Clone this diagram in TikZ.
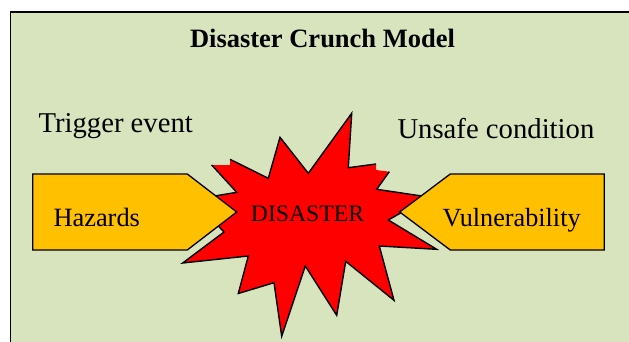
\documentclass[tikz,border=0pt]{standalone}
\usepackage{fontspec}
\setmainfont{Liberation Serif}
\definecolor{panelgreen}{HTML}{D7E4BD}
\definecolor{arrowgold}{HTML}{FFC000}
\tikzset{
	arrowshape/.style={draw=black,fill=arrowgold,line width=1.3pt,line join=miter},
	burstline/.style={draw=black,line width=1.4pt,line join=miter},
	plaintext/.style={inner sep=0pt,anchor=base west}
}
\begin{document}
\begin{tikzpicture}[x=1pt,y=-1pt]
	\useasboundingbox (0,0) rectangle (629,342);
	\fill[white] (0,0) rectangle (629,342);
	% panel
	\draw[fill=panelgreen,line width=1.3pt] (10.7,12) rectangle (650,360);
	\node[inner sep=0pt,anchor=base] (title) at (322.5,48)
		{\fontsize{26.5}{30}\selectfont\bfseries Disaster Crunch Model};
	% explosion
	\fill[red] (351.7,113.3) -- (348.3,167.7) -- (376,164) -- (376,170)
		-- (389.3,171.7) -- (376.7,189.3) -- (428.5,197) -- (388.3,220)
		-- (436.7,249.3) -- (379.3,246) -- (394,300.3) -- (345.7,261.3)
		-- (336.7,315.3) -- (305.3,266) -- (281.7,336.3) -- (274,282.7)
		-- (238.3,293.5) -- (248.3,256) -- (182.7,263) -- (224,232)
		-- (193.5,199.6) -- (236.7,192.3) -- (211.7,165) -- (230,165)
		-- (230,159.3) -- (268.3,178.3) -- (280,137.3) -- (308.3,173.3) -- cycle;
	% outline, open where the shape is cut
	\draw[burstline] (389.3,171.7) -- (376.7,189.3) -- (428.5,197) -- (388.3,220)
		-- (436.7,249.3) -- (379.3,246) -- (394,300.3) -- (345.7,261.3)
		-- (336.7,315.3) -- (305.3,266) -- (281.7,336.3) -- (274,282.7)
		-- (238.3,293.5) -- (248.3,256) -- (182.7,263) -- (224,232)
		-- (193.5,199.6) -- (236.7,192.3) -- (211.7,165);
	\draw[burstline] (230,159.3) -- (268.3,178.3) -- (280,137.3) -- (308.3,173.3)
		-- (351.7,113.3) -- (348.3,167.7) -- (376,164);
	% arrows
	\draw[arrowshape] (32.7,174) -- (187.3,174) -- (236.7,212) -- (187.3,250)
		-- (32.7,250) -- cycle;
	\draw[arrowshape] (604.3,174) -- (450.3,174) -- (399.7,212) -- (450.3,250)
		-- (604.3,250) -- cycle;
	% texts
	\node[plaintext] (trigger) at (38.3,133) {\fontsize{28.7}{32}\selectfont Trigger event};
	\node[plaintext] (unsafe) at (397.3,139) {\fontsize{28.7}{32}\selectfont Unsafe condition};
	\node[plaintext] (hazards) at (53.3,226.7) {\fontsize{26.4}{30}\selectfont Hazards};
	\node[plaintext] (vulnerability) at (442.3,226.7) {\fontsize{26.2}{30}\selectfont Vulnerability};
	\node[plaintext] (disaster) at (250.7,221.7) {\fontsize{23.7}{27}\selectfont DISASTER};
\end{tikzpicture}
\end{document}
